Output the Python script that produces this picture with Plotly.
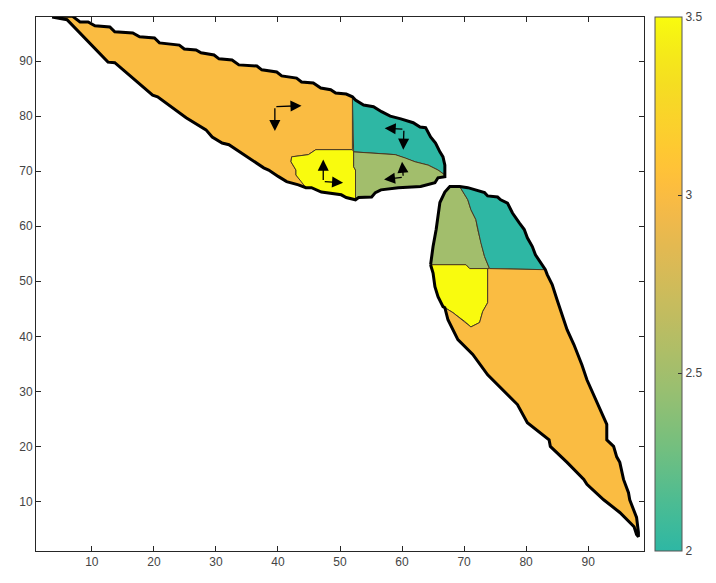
import plotly.graph_objects as go
from plotly.colors import sample_colorscale

# ---------------- colormap (parula, upper part) ----------------
PARULA_UPPER = [
    (0.1801, 0.7177, 0.6424), (0.2178, 0.7250, 0.6193), (0.2586, 0.7317, 0.5954),
    (0.3022, 0.7376, 0.5712), (0.3482, 0.7424, 0.5473), (0.3953, 0.7459, 0.5244),
    (0.4420, 0.7481, 0.5033), (0.4871, 0.7491, 0.4840), (0.5300, 0.7491, 0.4661),
    (0.5709, 0.7485, 0.4494), (0.6099, 0.7473, 0.4337), (0.6473, 0.7456, 0.4188),
    (0.6834, 0.7435, 0.4044), (0.7184, 0.7411, 0.3905), (0.7525, 0.7384, 0.3768),
    (0.7858, 0.7356, 0.3633), (0.8185, 0.7327, 0.3498), (0.8507, 0.7299, 0.3360),
    (0.8824, 0.7274, 0.3217), (0.9139, 0.7258, 0.3063), (0.9450, 0.7261, 0.2886),
    (0.9739, 0.7314, 0.2666), (0.9938, 0.7455, 0.2403), (0.9990, 0.7653, 0.2164),
    (0.9955, 0.7861, 0.1967), (0.9880, 0.8066, 0.1794), (0.9789, 0.8271, 0.1633),
    (0.9697, 0.8481, 0.1475), (0.9626, 0.8705, 0.1309), (0.9589, 0.8949, 0.1132),
    (0.9598, 0.9218, 0.0948), (0.9661, 0.9514, 0.0755), (0.9763, 0.9831, 0.0538),
]
CMIN, CMAX = 2.0, 3.5
CB_TICKS = [2, 2.5, 3, 3.5]
CB_TICKTEXT = ["2", "2.5", "3", "3.5"]
X_TICKS = [10, 20, 30, 40, 50, 60, 70, 80, 90]
Y_TICKS = [10, 20, 30, 40, 50, 60, 70, 80, 90]

# ---------------- upper shape segments (data coords) ----------------
A_TOP_X = [3.6, 6.8, 8.1, 9.4, 10.5, 12.9, 13.7, 16.6, 17.7, 20.1, 20.9, 24.1, 24.9, 26.8, 27.6,
           29.7, 30.5, 32.6, 33.7, 36.6, 37.4, 39.8, 40.6, 43.0, 43.8, 45.7, 46.9, 48.5, 49.3, 51.0, 52.0]
A_TOP_Y = [98.0, 98.2, 97.1, 97.1, 96.4, 96.2, 95.3, 95.1, 94.4, 94.2, 93.3, 92.9, 92.2, 92.0, 91.5,
           91.1, 90.4, 90.2, 89.3, 89.1, 88.4, 88.0, 87.3, 86.9, 86.2, 86.0, 85.1, 84.8, 84.2, 84.0, 83.5]
B_TEAL_TOP_X = [52.5, 53.8, 55.4, 56.7, 58.1, 59.8, 61.8, 62.9, 63.8, 64.6, 65.4, 66.1, 66.6, 66.9, 66.9]
B_TEAL_TOP_Y = [82.9, 82.0, 81.7, 80.8, 80.0, 79.5, 78.8, 78.0, 77.9, 76.2, 75.1, 73.5, 72.6, 71.1, 69.3]
C_GREEN_BOT_X = [66.9, 65.8, 65.3, 63.0, 60.5, 59.4, 56.6, 55.7, 55.1, 53.0, 52.5]
C_GREEN_BOT_Y = [69.0, 68.8, 67.9, 67.2, 67.0, 67.0, 66.6, 66.1, 65.3, 65.2, 64.8]
D_YEL_BOT_X = [51.0, 50.2, 47.8, 47.0, 45.4, 44.5]
D_YEL_BOT_Y = [65.2, 65.7, 66.1, 66.2, 67.0, 67.0]
E_ORA_BOT_X = [43.3, 41.4, 40.1, 38.5, 37.7, 35.3, 34.2, 32.1, 31.0, 29.4, 28.4, 26.2, 25.2,
               20.6, 19.8, 13.7, 12.6, 6.0, 4.1]
E_ORA_BOT_Y = [67.5, 68.1, 69.0, 70.2, 70.6, 72.4, 73.3, 74.8, 75.1, 76.2, 77.5, 79.0, 79.7,
               83.5, 83.8, 89.7, 89.8, 97.5, 98.0]
DIV_X = [52.0, 52.0, 52.2, 52.2, 52.5, 52.5]
DIV_Y = [83.5, 73.9, 73.5, 70.8, 70.2, 64.8]
G_YEL_TOP_X = [52.0, 46.1, 44.9, 42.2, 42.1, 42.9, 42.9, 44.5]
G_YEL_TOP_Y = [73.9, 73.9, 73.0, 72.6, 71.7, 70.2, 69.3, 67.2]
H_TG_X = [52.2, 55.0, 58.9, 60.5, 62.1, 64.2, 65.8, 66.9]
H_TG_Y = [73.5, 73.3, 73.0, 72.4, 71.7, 71.1, 70.2, 69.3]

# ---------------- lower shape segments ----------------
P_GRN_LEFT_X = [64.6, 65.0, 65.5, 65.8, 66.1, 66.9]
P_GRN_LEFT_Y = [53.0, 56.3, 59.4, 62.4, 64.3, 66.2]
Q_GRN_TOP_X = [67.7, 69.3]
Q_GRN_TOP_Y = [67.2, 67.2]
R_TEAL_TOP_X = [70.6, 73.3, 73.8, 75.4, 75.9, 77.0, 77.8, 78.9, 79.7, 80.2, 81.0, 81.5, 82.6, 83.1]
R_TEAL_TOP_Y = [67.0, 66.1, 65.5, 65.3, 64.8, 64.2, 62.4, 60.6, 59.4, 57.9, 56.3, 54.8, 53.0, 52.1]
S_ORA_RIGHT_X = [83.4, 84.2, 85.0, 85.8, 86.6, 87.7, 89.0, 89.8, 90.9, 91.9, 93.0, 93.0, 94.1,
                 94.6, 95.1, 95.7, 96.5, 96.7, 97.4, 97.8, 98.1, 98.1]
S_ORA_RIGHT_Y = [51.2, 49.4, 46.6, 43.9, 41.2, 38.5, 34.8, 32.1, 29.4, 26.7, 24.0, 21.2, 20.0,
                 18.1, 17.1, 14.0, 11.6, 10.3, 8.0, 7.1, 4.4, 3.6]
T_ORA_LEFT_X = [97.8, 97.4, 95.1, 92.5, 89.8, 89.3, 86.6, 83.9, 83.7, 80.2, 78.6, 77.0, 75.4,
                73.8, 71.4, 69.0, 67.4, 66.9]
T_ORA_LEFT_Y = [4.0, 5.4, 8.0, 10.3, 13.1, 14.0, 17.1, 20.0, 21.2, 24.3, 27.6, 29.4, 31.2,
                33.0, 36.7, 39.4, 43.0, 45.2]
U_YEL_LEFT_X = [66.6, 65.8, 65.3, 65.0, 64.6]
U_YEL_LEFT_Y = [45.4, 47.2, 49.0, 51.5, 53.0]
V_YO_X = [68.2, 70.1, 71.1, 72.5, 73.0, 73.8, 73.8]
V_YO_Y = [44.3, 42.7, 41.7, 42.5, 44.5, 46.1, 52.3]
W_HOR_X = [64.6, 70.3, 70.9, 73.8, 74.1, 83.1]
W_HOR_Y = [53.0, 53.0, 52.3, 52.3, 52.3, 52.1]
X_GT_X = [69.3, 70.6, 71.1, 71.9, 72.2, 72.7, 73.3, 74.1]
X_GT_Y = [67.2, 64.8, 63.0, 61.2, 59.4, 57.0, 54.5, 52.3]

# region values (colour data)
VAL_ORANGE, VAL_YELLOW, VAL_TEAL, VAL_GREEN = 3.0, 3.5, 2.0, 2.5

# quiver arrows: base and components
ARROW_X0 = [39.5, 39.5, 47.3, 47.3, 60.3, 60.3, 60.2, 60.2]
ARROW_Y0 = [81.7, 81.7, 68.1, 68.1, 77.6, 77.6, 68.9, 68.9]
ARROW_U = [4.3, 0.0, 0.0, 3.2, -3.1, -0.1, -0.2, -3.1]
ARROW_V = [0.2, -4.4, 4.0, -0.2, 0.2, -3.7, 2.8, -0.4]

# ---------------------------------------------------------------
colorscale = [[i / (len(PARULA_UPPER) - 1),
               "rgb(%d,%d,%d)" % tuple(round(c * 255) for c in rgb)]
              for i, rgb in enumerate(PARULA_UPPER)]


def col(v):
    return sample_colorscale(colorscale, [(v - CMIN) / (CMAX - CMIN)])[0]


def cat(*parts):
    xs, ys = [], []
    for px, py in parts:
        xs += list(px)
        ys += list(py)
    return xs, ys


def rev(px, py):
    return list(px)[::-1], list(py)[::-1]


def pt(px, py, i):
    return [px[i]], [py[i]]


A = (A_TOP_X, A_TOP_Y); B = (B_TEAL_TOP_X, B_TEAL_TOP_Y); C = (C_GREEN_BOT_X, C_GREEN_BOT_Y)
D = (D_YEL_BOT_X, D_YEL_BOT_Y); E = (E_ORA_BOT_X, E_ORA_BOT_Y); G = (G_YEL_TOP_X, G_YEL_TOP_Y)
H = (H_TG_X, H_TG_Y)
P = (P_GRN_LEFT_X, P_GRN_LEFT_Y); Q = (Q_GRN_TOP_X, Q_GRN_TOP_Y); R = (R_TEAL_TOP_X, R_TEAL_TOP_Y)
S = (S_ORA_RIGHT_X, S_ORA_RIGHT_Y); T = (T_ORA_LEFT_X, T_ORA_LEFT_Y); U = (U_YEL_LEFT_X, U_YEL_LEFT_Y)
V = (V_YO_X, V_YO_Y); W = (W_HOR_X, W_HOR_Y); X = (X_GT_X, X_GT_Y)

regions = [
    # upper shape
    (cat(A, pt(DIV_X, DIV_Y, 1), (G[0][1:], G[1][1:]), E), VAL_ORANGE),
    (cat(G, rev(*D), pt(DIV_X, DIV_Y, 5), pt(DIV_X, DIV_Y, 4), pt(DIV_X, DIV_Y, 3),
         pt(DIV_X, DIV_Y, 2), pt(DIV_X, DIV_Y, 1)), VAL_YELLOW),
    (cat(pt(DIV_X, DIV_Y, 0), B, rev(*H), pt(DIV_X, DIV_Y, 0)), VAL_TEAL),
    (cat(H, C, pt(DIV_X, DIV_Y, 4), pt(DIV_X, DIV_Y, 3), pt(DIV_X, DIV_Y, 2)), VAL_GREEN),
    # lower shape
    (cat(P, Q, (X[0][1:], X[1][1:]), rev(W[0][:4], W[1][:4])), VAL_GREEN),
    (cat(pt(Q[0], Q[1], -1), R, pt(W[0], W[1], 4), rev(*X)), VAL_TEAL),
    (cat((W[0][:4], W[1][:4]), rev(*V), pt(T[0], T[1], -1), U), VAL_YELLOW),
    (cat(pt(W[0], W[1], 3), (W[0][4:], W[1][4:]), S, T, V), VAL_ORANGE),
]

fig = go.Figure()
for (xs, ys), v in regions:
    fig.add_trace(go.Scatter(x=xs, y=ys, mode="lines", fill="toself", fillcolor=col(v),
                             line=dict(color="#4a3a22", width=1), hoverinfo="skip",
                             showlegend=False))

outer_up = cat(A, B, C, D, E, pt(A[0], A[1], 0))
outer_lo = cat(P, Q, R, S, T, U, pt(P[0], P[1], 0))
for xs, ys in (outer_up, outer_lo):
    fig.add_trace(go.Scatter(x=xs, y=ys, mode="lines", line=dict(color="black", width=3),
                             hoverinfo="skip", showlegend=False))

# colourbar carrier (outside visible range)
fig.add_trace(go.Scatter(
    x=[-50], y=[-50], mode="markers", hoverinfo="skip", showlegend=False,
    marker=dict(color=[CMIN], colorscale=colorscale, cmin=CMIN, cmax=CMAX, size=1,
                showscale=True,
                colorbar=dict(x=1.018, xanchor="left", y=0.5, yanchor="middle", len=1,
                              lenmode="fraction", thickness=27, thicknessmode="pixels",
                              xpad=0, ypad=0,
                              outlinewidth=1, outlinecolor="#555555",
                              tickvals=CB_TICKS, ticktext=CB_TICKTEXT, ticks="inside",
                              ticklen=4, tickcolor="#333333",
                              tickfont=dict(size=12, color="#444444",
                                            family="Liberation Sans, Arial, sans-serif")))))

for x0, y0, u, v in zip(ARROW_X0, ARROW_Y0, ARROW_U, ARROW_V):
    fig.add_annotation(x=x0 + u, y=y0 + v, ax=x0, ay=y0, xref="x", yref="y",
                       axref="x", ayref="y", showarrow=True, arrowhead=2, arrowsize=1.7,
                       arrowwidth=1.3, arrowcolor="black", text="")

axis_common = dict(showgrid=False, zeroline=False, showline=True, linecolor="#262626",
                   linewidth=1, mirror="ticks", ticks="inside", ticklen=5,
                   tickcolor="#262626",
                   tickfont=dict(size=12, color="#444444",
                                 family="Liberation Sans, Arial, sans-serif"))
fig.update_xaxes(range=[1, 99], tickvals=X_TICKS, **axis_common)
fig.update_yaxes(range=[1, 98], tickvals=Y_TICKS, **axis_common)

# page body has an 8px default margin, so the figure is sized to fit the window
fig.update_layout(width=708, height=575, margin=dict(l=28, r=69, t=9, b=32),
                  plot_bgcolor="white", paper_bgcolor="white", showlegend=False)

fig.write_html("out.html")
